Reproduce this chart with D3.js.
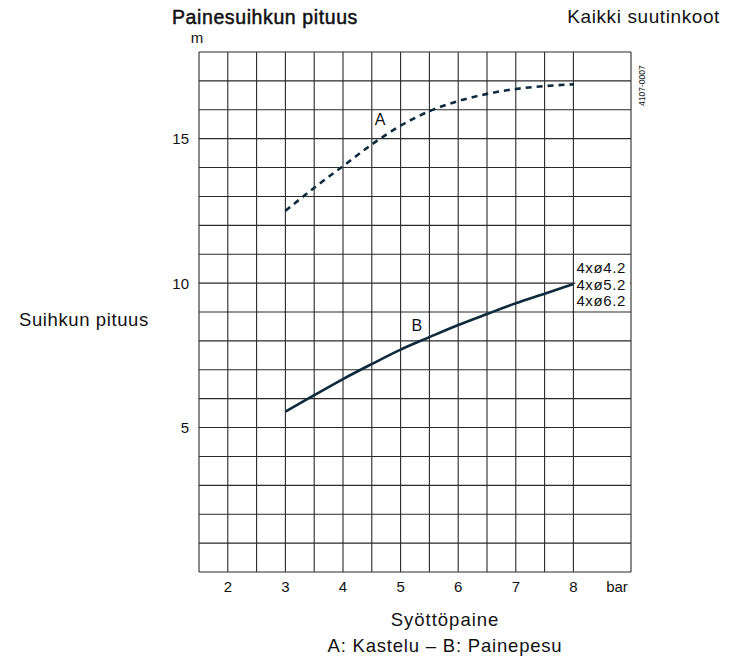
<!DOCTYPE html>
<html>
<head>
<meta charset="utf-8">
<script src="https://cdn.jsdelivr.net/npm/d3@7"></script>
<style>
  html, body { margin: 0; padding: 0; background: #fff; }
  svg text { font-family: "Liberation Sans", Arial, sans-serif; fill: #111; }
</style>
</head>
<body>
<div id="chart"></div>
<script>
// Painesuihkun pituus — suihkun pituus syöttöpaineen funktiona
const pressureTicks = [2, 3, 4, 5, 6, 7, 8];
const lengthTicks = [5, 10, 15];

// Käyrä A: Kastelu (katkoviiva)
const pressureA = [3, 3.5, 4, 4.5, 5, 5.5, 6, 6.5, 7, 7.5, 8];
const lengthA = [12.5, 13.3, 14.05, 14.8, 15.45, 15.95, 16.3, 16.55, 16.72, 16.82, 16.88];

// Käyrä B: Painepesu (yhtenäinen)
const pressureB = [3, 3.5, 4, 4.5, 5, 5.5, 6, 6.5, 7, 7.5, 8];
const lengthB = [5.55, 6.12, 6.68, 7.2, 7.7, 8.13, 8.55, 8.93, 9.3, 9.63, 9.97];

const nozzleLabels = ['4xø4.2', '4xø5.2', '4xø6.2'];

const W = 739, H = 660;
const lineColor = '#0f2a3d';

const svg = d3.select('#chart').append('svg')
  .attr('width', W).attr('height', H);

const x = d3.scaleLinear().domain([1.5, 9]).range([199, 631]);
const y = d3.scaleLinear().domain([0, 18]).range([572, 52]);

// Grid
const vLines = d3.range(1.5, 8.01, 0.5).concat([9]);
const hLines = d3.range(0, 19);
const grid = svg.append('g').attr('stroke', '#2a2a2a').attr('stroke-width', 1.1);
grid.selectAll('.v').data(vLines).join('line')
  .attr('x1', d => x(d)).attr('x2', d => x(d))
  .attr('y1', y(0)).attr('y2', y(18));
grid.selectAll('.h').data(hLines).join('line')
  .attr('x1', x(1.5)).attr('x2', x(9))
  .attr('y1', d => y(d)).attr('y2', d => y(d));

// Curves
const line = d3.line()
  .x(d => x(d[0])).y(d => y(d[1]))
  .curve(d3.curveMonotoneX);

svg.append('path')
  .datum(d3.zip(pressureA, lengthA))
  .attr('d', line)
  .attr('fill', 'none').attr('stroke', lineColor)
  .attr('stroke-width', 2.6).attr('stroke-dasharray', '6,5');

svg.append('path')
  .datum(d3.zip(pressureB, lengthB))
  .attr('d', line)
  .attr('fill', 'none').attr('stroke', lineColor)
  .attr('stroke-width', 2.6);

// Curve labels
svg.append('text').attr('x', x(4.5) + 3).attr('y', 125)
  .attr('font-size', 16).text('A');
svg.append('text').attr('x', x(5.5) - 18).attr('y', 331)
  .attr('font-size', 16).text('B');

// Nozzle labels with white backing
svg.append('rect')
  .attr('x', x(8) + 2).attr('y', 258)
  .attr('width', x(9) - x(8) - 3).attr('height', 52)
  .attr('fill', '#fff');
svg.selectAll('.noz').data(nozzleLabels).join('text')
  .attr('x', x(8) + 3)
  .attr('y', (d, i) => 273 + i * 16.5)
  .attr('font-size', 15).attr('letter-spacing', 0.6)
  .text(d => d);

// X tick labels
svg.selectAll('.xt').data(pressureTicks).join('text')
  .attr('x', d => x(d)).attr('y', 592)
  .attr('text-anchor', 'middle').attr('font-size', 15)
  .text(d => d);
svg.append('text').attr('x', 617).attr('y', 592)
  .attr('text-anchor', 'middle').attr('font-size', 15).text('bar');

// Y tick labels
svg.selectAll('.yt').data(lengthTicks).join('text')
  .attr('x', 189).attr('y', d => y(d) + 5.5)
  .attr('text-anchor', 'end').attr('font-size', 15)
  .text(d => d);
svg.append('text').attr('x', 197).attr('y', 43)
  .attr('text-anchor', 'middle').attr('font-size', 15).text('m');

// Titles
svg.append('text').attr('x', 172).attr('y', 24)
  .attr('font-size', 19.5).attr('letter-spacing', 0.6)
  .attr('stroke', '#111').attr('stroke-width', 0.5)
  .text('Painesuihkun pituus');
svg.append('text').attr('x', 720).attr('y', 23)
  .attr('text-anchor', 'end').attr('font-size', 19).attr('letter-spacing', 0.6)
  .text('Kaikki suutinkoot');

svg.append('text').attr('x', 19).attr('y', 326)
  .attr('font-size', 18.5).attr('letter-spacing', 0.6)
  .text('Suihkun pituus');

svg.append('text').attr('x', 445).attr('y', 626)
  .attr('text-anchor', 'middle').attr('font-size', 18.5).attr('letter-spacing', 1)
  .text('Syöttöpaine');
svg.append('text').attr('x', 445).attr('y', 652)
  .attr('text-anchor', 'middle').attr('font-size', 18.5).attr('letter-spacing', 0.8)
  .text('A: Kastelu – B: Painepesu');

// Drawing number
svg.append('text')
  .attr('transform', 'translate(645,106) rotate(-90)')
  .attr('font-size', 8.5)
  .text('4107-0007');
</script>
</body>
</html>
